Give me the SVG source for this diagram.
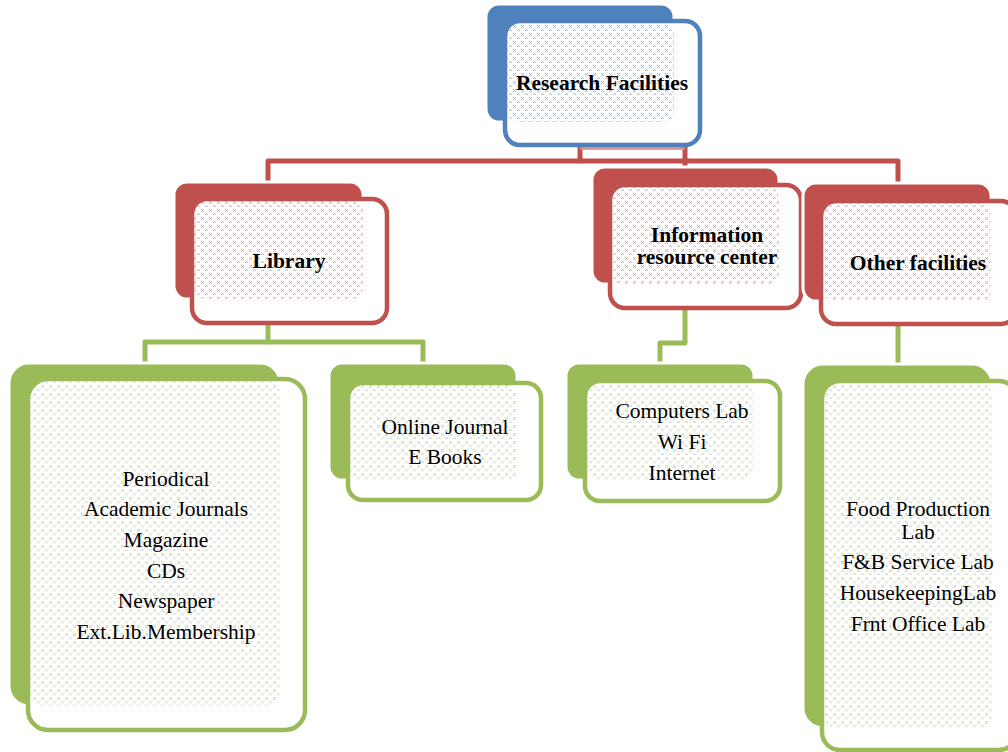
<svg xmlns="http://www.w3.org/2000/svg" width="1008" height="752" viewBox="0 0 1008 752">
  <defs>
    <!-- tiny cross-stitch fills, one per theme colour -->
    <pattern id="dotsBlue" width="8" height="8" patternUnits="userSpaceOnUse">
      <g fill="#4f81bd" opacity="0.55">
        <rect x="1" y="1" width="1" height="1"/><rect x="3" y="1" width="1" height="1"/>
        <rect x="2" y="2" width="1" height="1"/>
        <rect x="1" y="3" width="1" height="1"/><rect x="3" y="3" width="1" height="1"/>
        <rect x="6" y="5" width="1" height="1"/><rect x="5" y="6" width="1" height="1"/><rect x="7" y="6" width="1" height="1"/>
      </g>
    </pattern>
    <pattern id="dotsRed" width="8" height="8" patternUnits="userSpaceOnUse">
      <g fill="#c0504d" opacity="0.5">
        <rect x="1" y="1" width="1" height="1"/><rect x="3" y="1" width="1" height="1"/>
        <rect x="2" y="2" width="1" height="1"/>
        <rect x="1" y="3" width="1" height="1"/><rect x="3" y="3" width="1" height="1"/>
        <rect x="6" y="5" width="1" height="1"/><rect x="5" y="6" width="1" height="1"/><rect x="7" y="6" width="1" height="1"/>
      </g>
    </pattern>
    <pattern id="dotsGreen" width="8" height="8" patternUnits="userSpaceOnUse">
      <g fill="#9bbb59" opacity="0.55">
        <rect x="1" y="1" width="1" height="1"/><rect x="3" y="1" width="1" height="1"/>
        <rect x="2" y="2" width="1" height="1"/>
        <rect x="1" y="3" width="1" height="1"/><rect x="3" y="3" width="1" height="1"/>
        <rect x="6" y="5" width="1" height="1"/><rect x="5" y="6" width="1" height="1"/><rect x="7" y="6" width="1" height="1"/>
      </g>
    </pattern>
  </defs>
  <style>
    .back { stroke: #ffffff; stroke-width: 3; }
    .front { fill: #ffffff; stroke-width: 4.5; }
    .blue .back { fill: #4f81bd; } .blue .front { stroke: #4f81bd; } .blue .pat { fill: url(#dotsBlue); }
    .red .back { fill: #c0504d; } .red .front { stroke: #c0504d; } .red .pat { fill: url(#dotsRed); }
    .green .back { fill: #9bbb59; } .green .front { stroke: #9bbb59; } .green .pat { fill: url(#dotsGreen); }
    .head { font-family: "Liberation Serif", "Times New Roman", serif; font-weight: bold; font-size: 21.5px; fill: #000; text-anchor: middle; }
    .item { font-family: "Liberation Serif", "Times New Roman", serif; font-size: 21.5px; fill: #000; text-anchor: middle; }
    .link { fill: none; stroke-width: 5; stroke-linejoin: round; }
    .red-link { stroke: #c0504d; }
    .green-link { stroke: #9bbb59; }
  </style>

  <rect width="1008" height="752" fill="#ffffff"/>

  <!-- connectors -->
  <g id="connectors">
    <path class="link red-link" d="M580,147 V161 H268 V182"/>
    <path class="link red-link" d="M580,161 H898 V183"/>
    <path class="link red-link" d="M685,147 V167"/>
    <path d="M580,148.5 H685" stroke="#d98c8a" stroke-width="2.5" fill="none"/>
    <path class="link green-link" d="M268,325 V342 H145 V363"/>
    <path class="link green-link" d="M268,342 H423 V363"/>
    <path class="link green-link" d="M685,310 V343 H660 V363"/>
    <path class="link green-link" d="M898,326 V364"/>
  </g>

  <!-- top level -->
  <g id="research-facilities" class="blue">
    <rect class="back" x="486" y="4" width="188" height="118" rx="13"/>
    <rect class="front" x="505" y="21" width="195" height="124" rx="15"/>
    <rect class="pat" x="507" y="23" width="167" height="99" rx="10"/>
    <text class="head" x="602" y="90">Research Facilities</text>
  </g>

  <!-- second level -->
  <g id="library" class="red">
    <rect class="back" x="174" y="182" width="189" height="117" rx="13"/>
    <rect class="front" x="192" y="199" width="195" height="124" rx="15"/>
    <rect class="pat" x="194" y="201" width="169" height="98" rx="10"/>
    <text class="head" x="289" y="268">Library</text>
  </g>

  <g id="information-resource-center" class="red">
    <rect class="back" x="592" y="167" width="187" height="117" rx="13"/>
    <rect class="front" x="610" y="185" width="191" height="123" rx="15"/>
    <rect class="pat" x="612" y="187" width="167" height="97" rx="10"/>
    <text class="head" x="707" y="242">Information</text>
    <text class="head" x="707" y="264">resource center</text>
  </g>

  <g id="other-facilities" class="red">
    <rect class="back" x="803" y="183" width="188" height="118" rx="13"/>
    <rect class="front" x="821" y="201" width="195" height="123" rx="15"/>
    <rect class="pat" x="823" y="203" width="168" height="98" rx="10"/>
    <text class="head" x="918" y="270">Other facilities</text>
  </g>

  <!-- third level -->
  <g id="library-print" class="green">
    <rect class="back" x="9" y="363" width="271" height="343" rx="20"/>
    <rect class="front" x="28" y="379" width="277" height="351" rx="20"/>
    <rect class="pat" x="30" y="381" width="250" height="325" rx="12"/>
    <text class="item" x="166" y="486">Periodical</text>
    <text class="item" x="166" y="516">Academic Journals</text>
    <text class="item" x="166" y="547">Magazine</text>
    <text class="item" x="166" y="578">CDs</text>
    <text class="item" x="166" y="608">Newspaper</text>
    <text class="item" x="166" y="639">Ext.Lib.Membership</text>
  </g>

  <g id="library-online" class="green">
    <rect class="back" x="329" y="363" width="188" height="117" rx="13"/>
    <rect class="front" x="348" y="383" width="193" height="117" rx="15"/>
    <rect class="pat" x="350" y="385" width="167" height="95" rx="10"/>
    <text class="item" x="445" y="434">Online Journal</text>
    <text class="item" x="445" y="464">E Books</text>
  </g>

  <g id="irc-services" class="green">
    <rect class="back" x="566" y="363" width="188" height="117" rx="13"/>
    <rect class="front" x="585" y="381" width="195" height="120" rx="15"/>
    <rect class="pat" x="587" y="383" width="167" height="97" rx="10"/>
    <text class="item" x="682" y="418">Computers Lab</text>
    <text class="item" x="682" y="449">Wi Fi</text>
    <text class="item" x="682" y="480">Internet</text>
  </g>

  <g id="labs" class="green">
    <rect class="back" x="803" y="364" width="189" height="364" rx="20"/>
    <rect class="front" x="822" y="381" width="195" height="369" rx="18"/>
    <rect class="pat" x="824" y="383" width="168" height="345" rx="12"/>
    <text class="item" x="918" y="516">Food Production</text>
    <text class="item" x="918" y="539">Lab</text>
    <text class="item" x="918" y="569">F&amp;B Service Lab</text>
    <text class="item" x="918" y="600">HousekeepingLab</text>
    <text class="item" x="918" y="631">Frnt Office Lab</text>
  </g>
</svg>
